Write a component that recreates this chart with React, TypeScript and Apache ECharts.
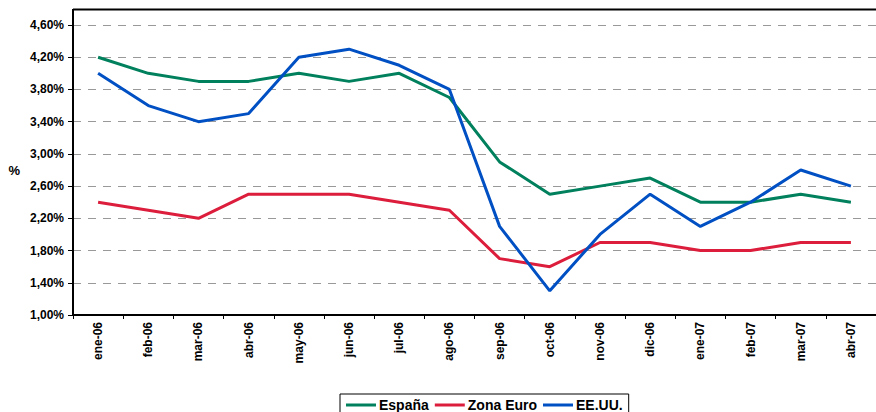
import React, { useEffect, useRef } from "react";
import * as echarts from "echarts";

const categories = ["ene-06", "feb-06", "mar-06", "abr-06", "may-06", "jun-06", "jul-06", "ago-06", "sep-06", "oct-06", "nov-06", "dic-06", "ene-07", "feb-07", "mar-07", "abr-07"];
const espana = [4.2, 4.0, 3.9, 3.9, 4.0, 3.9, 4.0, 3.7, 2.9, 2.5, 2.6, 2.7, 2.4, 2.4, 2.5, 2.4];
const zonaEuro = [2.4, 2.3, 2.2, 2.5, 2.5, 2.5, 2.4, 2.3, 1.7, 1.6, 1.9, 1.9, 1.8, 1.8, 1.9, 1.9];
const eeuu = [4.0, 3.6, 3.4, 3.5, 4.2, 4.3, 4.1, 3.8, 2.1, 1.3, 2.0, 2.5, 2.1, 2.4, 2.8, 2.6];
const seriesNames = ["España", "Zona Euro", "EE.UU."];
const colors = ["#00805C", "#DC1E3C", "#0050C4"];

export default function App() {
  const ref = useRef<HTMLDivElement>(null);
  useEffect(() => {
    if (!ref.current) return;
    const chart = echarts.init(ref.current, null, { renderer: "svg" });
    const font = "'Liberation Sans', Arial, sans-serif";
    const data = [espana, zonaEuro, eeuu];
    chart.setOption({
      animation: false,
      backgroundColor: "#ffffff",
      grid: { left: 73, top: 25, width: 813, height: 290, containLabel: false },
      legend: {
        bottom: -8,
        left: 340,
        itemWidth: 30,
        itemHeight: 3,
        itemGap: 6,
        padding: [4, 6, 8, 6],
        borderColor: "#000",
        borderWidth: 1,
        icon: "rect",
        data: seriesNames,
        textStyle: { fontFamily: font, fontWeight: "bold", fontSize: 14, color: "#000", padding: [0, 0, 0, -2] },
      },
      xAxis: {
        type: "category",
        data: categories,
        boundaryGap: true,
        axisLine: { lineStyle: { color: "#000", width: 2 } },
        axisTick: { show: true, length: 4, lineStyle: { color: "#000", width: 1 } },
        axisLabel: { rotate: 90, fontFamily: font, fontWeight: "bold", fontSize: 12, color: "#000", margin: 7 },
      },
      yAxis: {
        type: "value",
        min: 1.0,
        max: 4.6,
        interval: 0.4,
        name: "%",
        nameLocation: "middle",
        nameRotate: 0,
        nameGap: 53,
        nameTextStyle: { fontFamily: font, fontWeight: "bold", fontSize: 13, color: "#000" },
        axisLine: { show: true, lineStyle: { color: "#000", width: 2 } },
        axisTick: { show: true, length: 5, lineStyle: { color: "#000", width: 1 } },
        axisLabel: {
          fontFamily: font,
          fontWeight: "bold",
          fontSize: 12,
          color: "#000",
          margin: 9,
          formatter: (v: number) => v.toFixed(2).replace(".", ",") + "%",
        },
        splitLine: { show: true, lineStyle: { color: "#999", type: [8, 7], width: 1 } },
      },
      graphic: [
        { type: "line", shape: { x1: 73, y1: 9.5, x2: 876, y2: 9.5 }, style: { stroke: "#000", lineWidth: 2 } },
        { type: "line", shape: { x1: 73, y1: 9, x2: 73, y2: 26 }, style: { stroke: "#000", lineWidth: 2 } },
      ],
      series: seriesNames.map((name, i) => ({
        name,
        type: "line",
        data: data[i],
        symbol: "none",
        lineStyle: { color: colors[i], width: 3 },
        itemStyle: { color: colors[i] },
      })),
    });
    return () => chart.dispose();
  }, []);
  return <div ref={ref} style={{ width: 876, height: 412, position: "absolute", left: 0, top: 0 }} />;
}
